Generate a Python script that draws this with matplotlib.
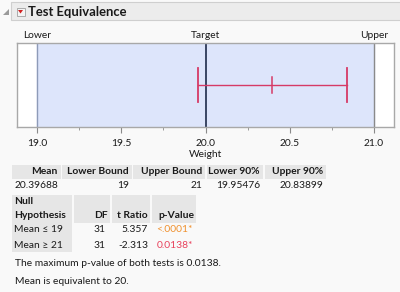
import matplotlib
matplotlib.use("Agg")
import matplotlib.pyplot as plt
from matplotlib.patches import Rectangle, Polygon

plt.rcParams['font.family'] = ['Lato', 'DejaVu Sans']

# data
lower_bound = 19
upper_bound = 21
target = 20
mean = 20.39688
ci_lower = 19.95476
ci_upper = 20.83899
x_ticks = [19.0, 19.5, 20.0, 20.5, 21.0]

summary_cols = ["Mean", "Lower Bound", "Upper Bound", "Lower 90%", "Upper 90%"]
summary_vals = ["20.39688", "19", "21", "19.95476", "20.83899"]

test_cols = ["DF", "t Ratio", "p-Value"]
test_rows = ["Mean \u2264 19", "Mean \u2265 21"]
test_df = ["31", "31"]
test_t = ["5.357", "-2.313"]
test_p = ["<.0001*", "0.0138*"]
p_colors = ["#f0912e", "#e8415c"]

max_p = "0.0138"

W, H = 400, 292
fig = plt.figure(figsize=(W / 100, H / 100), dpi=100, facecolor="#f9f9f9")

# layout axes in pixel coords
bg = fig.add_axes([0, 0, 1, 1])
bg.set_xlim(0, W)
bg.set_ylim(H, 0)
bg.axis("off")

# header bar
bg.add_patch(Rectangle((11, 2), 390, 18, facecolor="#ececec", edgecolor="#cfcfcf", lw=0.8))
bg.add_patch(Polygon([[3, 15], [9, 15], [9, 9]], closed=True, facecolor="#9a9a9a", edgecolor="none"))
bg.add_patch(Rectangle((16.5, 7.5), 8, 8, facecolor="#f4f4f4", edgecolor="#a0a0a0", lw=0.6))
bg.add_patch(Polygon([[18, 10], [23, 10], [20.5, 13.5]], closed=True, facecolor="#d22020", edgecolor="none"))
bg.text(28.5, 11.5, "Test Equivalence", fontsize=9.4, fontweight="bold", va="center", ha="left", color="#1a1a1a")

fs = 7.4

# summary table
sum_cells = [(12, 61), (62, 132), (133, 205), (207, 263), (265, 326)]
for (x0, x1), col, val in zip(sum_cells, summary_cols, summary_vals):
    bg.add_patch(Rectangle((x0, 165), x1 - x0, 14, facecolor="#e6e6e6", edgecolor="none"))
    bg.text(x1 - 3, 172, col, fontsize=fs, fontweight="bold", ha="right", va="center", color="#1a1a1a")
    bg.text(x1 - 3, 186, val, fontsize=fs, ha="right", va="center", color="#1a1a1a")

# hypothesis table
test_cells = [(12, 72), (74, 110), (112, 150), (152, 196)]
for x0, x1 in test_cells:
    bg.add_patch(Rectangle((x0, 195), x1 - x0, 28, facecolor="#e6e6e6", edgecolor="none"))
bg.add_patch(Rectangle((12, 223), 60, 29, facecolor="#e6e6e6", edgecolor="none"))
bg.text(14, 202, "Null", fontsize=fs, fontweight="bold", ha="left", va="center", color="#1a1a1a")
bg.text(14, 216, "Hypothesis", fontsize=fs, fontweight="bold", ha="left", va="center", color="#1a1a1a")
for (x0, x1), col in zip(test_cells[1:], test_cols):
    bg.text(x1 - 2, 216, col, fontsize=fs, fontweight="bold", ha="right", va="center", color="#1a1a1a")
for i in range(len(test_rows)):
    y = 230 + i * 15
    bg.text(14, y, test_rows[i], fontsize=fs, ha="left", va="center", color="#1a1a1a")
    bg.text(106, y, test_df[i], fontsize=fs, ha="right", va="center", color="#1a1a1a")
    bg.text(148, y, test_t[i], fontsize=fs, ha="right", va="center", color="#1a1a1a")
    bg.text(193, y, test_p[i], fontsize=fs, ha="right", va="center", color=p_colors[i])

bg.text(15, 264, "The maximum p-value of both tests is %s." % max_p, fontsize=fs, ha="left", va="center", color="#1a1a1a")
bg.text(15, 282, "Mean is equivalent to %d." % target, fontsize=fs, ha="left", va="center", color="#1a1a1a")

# plot
pad = 0.12
ax = fig.add_axes([16.7 / W, (H - 127) / H, (394.3 - 16.7) / W, (127 - 43) / H])
ax.set_facecolor("white")
ax.set_xlim(lower_bound - pad, upper_bound + pad)
ax.set_ylim(0, 1)
ax.axvspan(lower_bound, upper_bound, color="#dde5fb", zorder=0)
ax.axvline(lower_bound, color="#8e9bb8", lw=1, zorder=1)
ax.axvline(upper_bound, color="#8a8a8a", lw=1, zorder=1)
ax.axvline(target, color="#1e2a4a", lw=1.2, zorder=2)

yc = 0.5
ax.plot([ci_lower, ci_upper], [yc, yc], color="#d63a66", lw=1, zorder=3)
ax.plot([ci_lower, ci_lower], [0.3, 0.7], color="#d63a66", lw=1.3, zorder=3)
ax.plot([ci_upper, ci_upper], [0.3, 0.7], color="#d63a66", lw=1.3, zorder=3)
ax.plot([mean, mean], [0.4, 0.6], color="#d63a66", lw=1.1, zorder=3)

ax.set_xticks(x_ticks)
ax.set_xticklabels(["%.1f" % t for t in x_ticks], fontsize=fs, color="#1a1a1a")
ax.set_xticks([t + 0.25 for t in x_ticks[:-1]], minor=True)
ax.tick_params(axis="x", which="major", length=4, color="#8a8a8a", pad=4.5)
ax.tick_params(axis="x", which="minor", length=2.5, color="#8a8a8a")
ax.set_yticks([])
ax.set_xlabel("Weight", fontsize=fs, color="#1a1a1a", labelpad=1.5)
for s in ax.spines.values():
    s.set_color("#a8a8a8")
    s.set_linewidth(1)

for xv, lab in [(lower_bound, "Lower"), (target, "Target"), (upper_bound, "Upper")]:
    ax.text(xv, 1.03, lab, transform=ax.get_xaxis_transform(), fontsize=fs,
            ha="center", va="bottom", color="#1a1a1a")

fig.savefig("out.png", dpi=100, facecolor=fig.get_facecolor())
